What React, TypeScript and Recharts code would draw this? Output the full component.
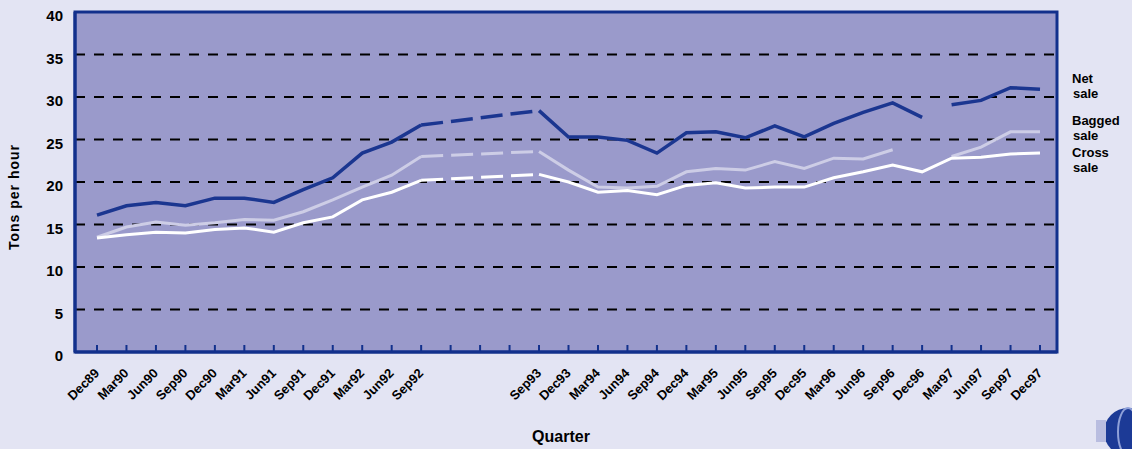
import { CartesianGrid, Line, LineChart, XAxis, YAxis } from 'recharts'

// quarterly series, Dec89 – Dec97 (no survey Dec92–Jun93)
const quarters = [
  'Dec89', 'Mar90', 'Jun90', 'Sep90', 'Dec90', 'Mar91', 'Jun91', 'Sep91',
  'Dec91', 'Mar92', 'Jun92', 'Sep92', 'Dec92', 'Mar93', 'Jun93', 'Sep93',
  'Dec93', 'Mar94', 'Jun94', 'Sep94', 'Dec94', 'Mar95', 'Jun95', 'Sep95',
  'Dec95', 'Mar96', 'Jun96', 'Sep96', 'Dec96', 'Mar97', 'Jun97', 'Sep97',
  'Dec97',
]

const netSale = [
  16.1, 17.2, 17.6, 17.2, 18.1, 18.1, 17.6, 19.1, 20.5, 23.4, 24.7, 26.7,
  null, null, null, 28.4, 25.3, 25.3, 24.9, 23.4, 25.8, 25.9, 25.2, 26.6,
  25.3, 26.9, 28.2, 29.3, 27.6, 29.1, 29.6, 31.1, 30.9,
]

const baggedSale = [
  13.5, 14.7, 15.3, 14.9, 15.2, 15.6, 15.5, 16.5, 17.9, 19.4, 20.8, 23.0,
  null, null, null, 23.6, 21.4, 19.4, 19.3, 19.5, 21.2, 21.6, 21.4, 22.4,
  21.6, 22.8, 22.7, 23.8, null, 23.0, 24.1, 25.9, 25.9,
]

const crossSale = [
  13.4, 13.8, 14.1, 14.0, 14.4, 14.6, 14.1, 15.2, 15.9, 17.9, 18.8, 20.2,
  null, null, null, 20.9, 20.0, 18.8, 19.0, 18.5, 19.6, 19.9, 19.3, 19.4,
  19.4, 20.5, 21.2, 22.0, 21.2, 22.8, 22.9, 23.3, 23.4,
]

const yTicks = [0, 5, 10, 15, 20, 25, 30, 35, 40]

const legendNames = [
  ['Net', 'sale'],
  ['Bagged', 'sale'],
  ['Cross', 'sale'],
]

const NAVY = '#12308c'
const NET = '#1b3690'
const BAGGED = '#cdcde6'
const CROSS = '#ffffff'
const FONT = '"Liberation Sans", Arial, sans-serif'

// plot box, used for the frame drawn on top
const PLOT = { left: 75, top: 12, right: 1057, bottom: 352 }

// the gap quarters are joined with a dashed segment
const bridgeFrom = 11
const bridgeTo = 15
// net sale series is broken between Dec96 and Mar97
const netBreak = 29

const bridge = (s: (number | null)[], i: number) =>
  i === bridgeFrom || i === bridgeTo ? s[i] : null

const data = quarters.map((q, i) => ({
  q,
  netA: i < netBreak ? netSale[i] : null,
  netB: i >= netBreak ? netSale[i] : null,
  bagged: baggedSale[i],
  cross: crossSale[i],
  netGap: bridge(netSale, i),
  baggedGap: bridge(baggedSale, i),
  crossGap: bridge(crossSale, i),
}))

const labelled = new Set(
  quarters.filter((_, i) => netSale[i] != null || crossSale[i] != null),
)

function QuarterTick(props: any) {
  const { x, y, payload } = props
  const ax = x + 3
  const ay = y + 22
  return (
    <g>
      <line x1={x} x2={x} y1={y - 7} y2={y} stroke={NAVY} strokeWidth={2} />
      {labelled.has(payload.value) && (
        <text
          x={ax}
          y={ay}
          transform={`rotate(-45 ${ax} ${ay})`}
          textAnchor="end"
          fontFamily={FONT}
          fontWeight="bold"
          fontSize={13}
          fill="#000"
        >
          {payload.value}
        </text>
      )}
    </g>
  )
}

function ValueTick(props: any) {
  const { x, y, payload } = props
  return (
    <text
      x={x}
      y={y + 4}
      dy="0.355em"
      textAnchor="end"
      fontFamily={FONT}
      fontWeight="bold"
      fontSize={15}
      fill="#000"
    >
      {payload.value}
    </text>
  )
}

export default function App() {
  return (
    <div
      style={{
        position: 'absolute',
        left: 0,
        top: 0,
        width: 1132,
        height: 449,
        background: '#e3e4f3',
      }}
    >
      <LineChart
        width={1132}
        height={449}
        data={data}
        margin={{ top: PLOT.top, right: 1132 - PLOT.right, bottom: 7, left: 0 }}
      >
        <CartesianGrid
          vertical={false}
          horizontal
          fill="#9a9acb"
          stroke="#000"
          strokeWidth={2}
          strokeDasharray="10 9"
        />
        <XAxis
          dataKey="q"
          interval={0}
          height={90}
          padding={{ left: 22, right: 17 }}
          tickSize={0}
          tickMargin={0}
          tickLine={false}
          axisLine={{ stroke: NAVY, strokeWidth: 3 }}
          tick={<QuarterTick />}
        />
        <YAxis
          domain={[0, 40]}
          ticks={yTicks}
          width={PLOT.left}
          tickSize={0}
          tickMargin={12}
          tickLine={false}
          axisLine={{ stroke: NAVY, strokeWidth: 3 }}
          tick={<ValueTick />}
        />
        <Line dataKey="baggedGap" stroke={BAGGED} strokeWidth={3} strokeDasharray="22 8" dot={false} activeDot={false} connectNulls isAnimationActive={false} />
        <Line dataKey="crossGap" stroke={CROSS} strokeWidth={3} strokeDasharray="22 8" dot={false} activeDot={false} connectNulls isAnimationActive={false} />
        <Line dataKey="netGap" stroke={NET} strokeWidth={3.5} strokeDasharray="22 8" dot={false} activeDot={false} connectNulls isAnimationActive={false} />
        <Line dataKey="bagged" stroke={BAGGED} strokeWidth={3} dot={false} activeDot={false} isAnimationActive={false} />
        <Line dataKey="cross" stroke={CROSS} strokeWidth={3} dot={false} activeDot={false} isAnimationActive={false} />
        <Line dataKey="netA" stroke={NET} strokeWidth={3.5} dot={false} activeDot={false} isAnimationActive={false} />
        <Line dataKey="netB" stroke={NET} strokeWidth={3.5} dot={false} activeDot={false} isAnimationActive={false} />
      </LineChart>

      <svg
        width={1132}
        height={449}
        style={{ position: 'absolute', left: 0, top: 0, pointerEvents: 'none' }}
      >
        <rect
          x={PLOT.left}
          y={PLOT.top}
          width={PLOT.right - PLOT.left}
          height={PLOT.bottom - PLOT.top}
          fill="none"
          stroke={NAVY}
          strokeWidth={3}
        />
        <text
          x={19}
          y={197}
          transform="rotate(-90 19 197)"
          textAnchor="middle"
          fontFamily={FONT}
          fontWeight="bold"
          fontSize={14}
          letterSpacing={1}
        >
          Tons per hour
        </text>
        <text
          x={561}
          y={442}
          textAnchor="middle"
          fontFamily={FONT}
          fontWeight="bold"
          fontSize={16}
        >
          Quarter
        </text>
        {legendNames.map(([a, b], i) => (
          <text
            key={a}
            x={1072}
            y={[83, 125, 157][i]}
            fontFamily={FONT}
            fontWeight="bold"
            fontSize={13}
          >
            <tspan x={1072}>{a}</tspan>
            <tspan x={1073} dy={15}>
              {b}
            </tspan>
          </text>
        ))}
        <circle cx={1128} cy={432} r={24} fill="#1c3a96" />
        <ellipse cx={1128} cy={432} rx={10} ry={24} fill="none" stroke="#8fa0d8" strokeWidth={2} />
        <rect x={1096} y={420} width={10} height={22} fill="#b9bde0" />
      </svg>
    </div>
  )
}
